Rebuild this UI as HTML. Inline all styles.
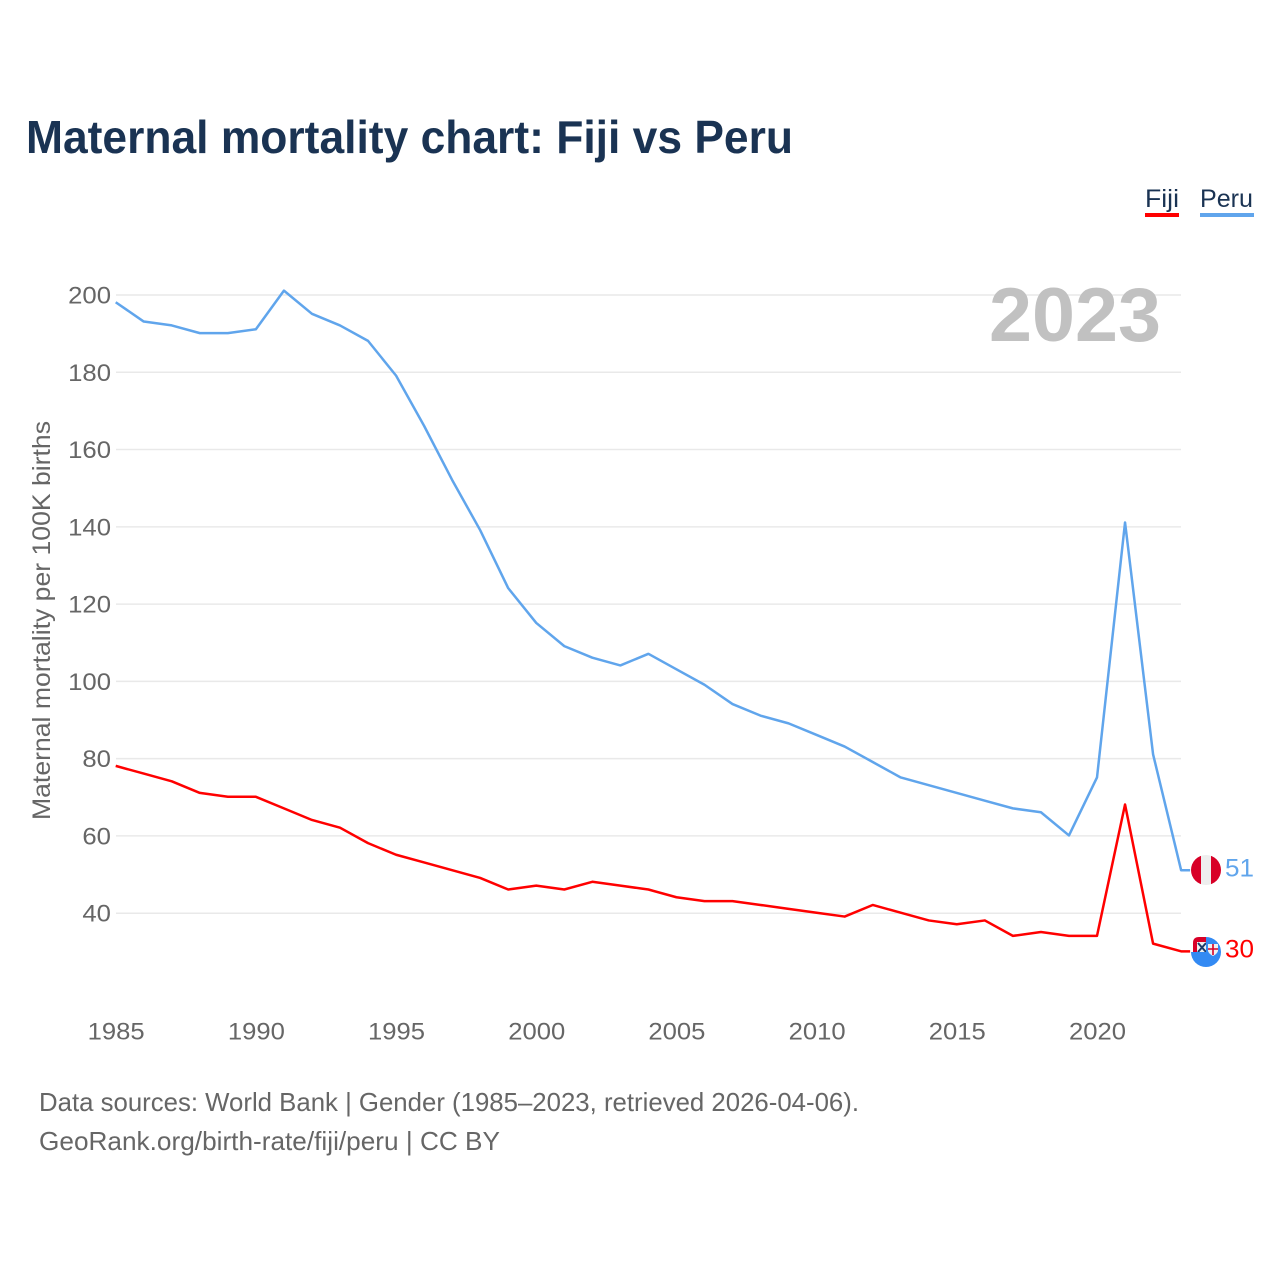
<!DOCTYPE html>
<html lang="en">
<head>
<meta charset="utf-8">
<title>Maternal mortality chart: Fiji vs Peru</title>
<style>
html,body{margin:0;padding:0;background:#fff;width:1280px;height:1280px;overflow:hidden}
svg{display:block}
text{font-family:"Liberation Sans",sans-serif}
</style>
</head>
<body>
<svg id="chart" xmlns="http://www.w3.org/2000/svg" width="1280" height="1280" viewBox="0 0 1280 1280">
  <defs>
    <clipPath id="peru-clip"><circle cx="1206" cy="870" r="15"/></clipPath>
    <clipPath id="fiji-clip"><circle cx="1206" cy="952" r="15"/></clipPath>
  </defs>
  <text x="26" y="153" font-size="46" font-weight="700" fill="#1a3353" textLength="767" lengthAdjust="spacingAndGlyphs">Maternal mortality chart: Fiji vs Peru</text>
  <g>
    <g>
      <text x="1145" y="207" font-size="25" fill="#1a3353" textLength="34" lengthAdjust="spacingAndGlyphs">Fiji</text>
      <rect x="1145" y="213" width="34" height="4" fill="#ff0000"/>
    </g>
    <g>
      <text x="1200" y="207" font-size="25" fill="#1a3353" textLength="53" lengthAdjust="spacingAndGlyphs">Peru</text>
      <rect x="1200" y="213" width="54" height="4" fill="#60a5ec"/>
    </g>
  </g>
  <g id="grid"></g>
  <g id="yticks"></g>
  <g id="xticks"></g>
  <text x="1161" y="341" text-anchor="end" font-size="76" font-weight="700" fill="#c1c1c1" textLength="172" lengthAdjust="spacingAndGlyphs">2023</text>
  <text transform="translate(50,820) rotate(-90)" font-size="25" fill="#666666" textLength="399" lengthAdjust="spacingAndGlyphs">Maternal mortality per 100K births</text>
  <g id="series"></g>
  <g clip-path="url(#peru-clip)">
    <rect x="1191" y="855" width="30" height="30" fill="#eeeeee"/>
    <rect x="1191" y="855" width="10" height="30" fill="#d80027"/>
    <rect x="1211" y="855" width="10" height="30" fill="#d80027"/>
  </g>
  <g>
    <path d="M1193 952v-9q0-6 6-6h7v15z" fill="#d80027"/>
    <rect x="1197" y="942" width="9" height="10" fill="#f0f0f0"/>
    <path d="M1198 943l8 9M1206 943l-8 9" stroke="#1a3a6a" stroke-width="2"/>
    <g clip-path="url(#fiji-clip)">
      <path d="M1191 952h15v-15h15v30h-30z" fill="#338af3"/>
      <path d="M1206 944q0 10 7 14q7-4 8-14z" fill="#338af3"/>
    </g>
    <path d="M1208 944h10v7q-1 3-5 5q-4-2-5-5z" fill="#f0f0f0"/>
    <path d="M1213 944v11M1208 949h10" stroke="#d80027" stroke-width="1.6"/>
  </g>
  <text id="label-peru" x="1225" y="876.5" font-size="25" fill="#60a5ec" textLength="29" lengthAdjust="spacingAndGlyphs">51</text>
  <text id="label-fiji" x="1225" y="957.5" font-size="25" fill="#ff0000" textLength="29" lengthAdjust="spacingAndGlyphs">30</text>
  <text x="39" y="1111" font-size="26" fill="#666666" textLength="820" lengthAdjust="spacingAndGlyphs">Data sources: World Bank | Gender (1985–2023, retrieved 2026-04-06).</text>
  <text x="39" y="1150" font-size="26" fill="#666666" textLength="461" lengthAdjust="spacingAndGlyphs">GeoRank.org/birth-rate/fiji/peru | CC BY</text>
</svg>
<script>
const years = [1985,1986,1987,1988,1989,1990,1991,1992,1993,1994,1995,1996,1997,1998,1999,2000,2001,2002,2003,2004,2005,2006,2007,2008,2009,2010,2011,2012,2013,2014,2015,2016,2017,2018,2019,2020,2021,2022,2023];
const peruValues = [198,193,192,190,190,191,201,195,192,188,179,166,152,139,124,115,109,106,104,107,103,99,94,91,89,86,83,79,75,73,71,69,67,66,60,75,141,81,51];
const fijiValues = [78,76,74,71,70,70,67,64,62,58,55,53,51,49,46,47,46,48,47,46,44,43,43,42,41,40,39,42,40,38,37,38,34,35,34,34,68,32,30];
const yTickValues = [40,60,80,100,120,140,160,180,200];
const xTickValues = [1985,1990,1995,2000,2005,2010,2015,2020];

const NS = 'http://www.w3.org/2000/svg';
function xScale(year) { return 115.7 + (year - 1985) * (1097 - 115.7) / 35; }
function yScale(v) { return 913.2 - (v - 40) * (913.2 - 295) / 160; }

const grid = document.getElementById('grid');
const yticks = document.getElementById('yticks');
const xticks = document.getElementById('xticks');
const series = document.getElementById('series');

yTickValues.forEach(function (v) {
  const line = document.createElementNS(NS, 'line');
  
  
  line.setAttribute('x1', 116);
  line.setAttribute('x2', 1181);
  line.setAttribute('y1', yScale(v));
  line.setAttribute('y2', yScale(v));
  line.setAttribute('stroke', '#e9e9e9');
  line.setAttribute('stroke-width', 1.5);
  grid.appendChild(line);

  const label = document.createElementNS(NS, 'text');
  
  
  label.setAttribute('x', 111);
  label.setAttribute('y', yScale(v) + 8.5);
  label.setAttribute('text-anchor', 'end');
  label.setAttribute('font-size', 24);
  label.setAttribute('fill', '#666666');
  label.setAttribute('textLength', String(v).length * 14.3);
  label.setAttribute('lengthAdjust', 'spacingAndGlyphs');
  label.textContent = v;
  yticks.appendChild(label);
});

xTickValues.forEach(function (yr) {
  const label = document.createElementNS(NS, 'text');
  
  
  label.setAttribute('x', xScale(yr) + 0.5);
  label.setAttribute('y', 1039.5);
  label.setAttribute('text-anchor', 'middle');
  label.setAttribute('font-size', 24);
  label.setAttribute('fill', '#666666');
  label.setAttribute('textLength', 57);
  label.setAttribute('lengthAdjust', 'spacingAndGlyphs');
  label.textContent = yr;
  xticks.appendChild(label);
});

function drawSeries(values, color, name) {
  const pts = values.map(function (v, i) { return xScale(years[i]) + ',' + (yScale(v) - 0.5); });
  const last = values.length - 1;
  pts.push((xScale(years[last]) + 9) + ',' + (yScale(values[last]) - 0.5));
  const line = document.createElementNS(NS, 'polyline');
  
  
  line.setAttribute('points', pts.join(' '));
  line.setAttribute('fill', 'none');
  line.setAttribute('stroke', color);
  line.setAttribute('stroke-width', 2.5);
  line.setAttribute('stroke-linejoin', 'round');
  series.appendChild(line);
}
drawSeries(peruValues, '#60a5ec', 'line-peru');
drawSeries(fijiValues, '#ff0000', 'line-fiji');

document.getElementById('label-peru').textContent = peruValues[peruValues.length - 1];
document.getElementById('label-fiji').textContent = fijiValues[fijiValues.length - 1];
</script>
</body>
</html>
